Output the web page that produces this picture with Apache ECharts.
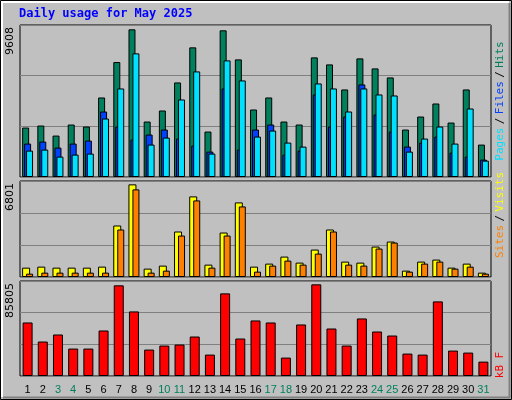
<!DOCTYPE html>
<html><head><meta charset="utf-8">
<script src="https://cdn.jsdelivr.net/npm/echarts@6/dist/echarts.min.js"></script>
<style>html,body{margin:0;padding:0;background:#C0C0C0}#c{width:512px;height:400px}</style>
</head><body><div id="c"></div>
<script>
const days = ['1','2','3','4','5','6','7','8','9','10','11','12','13','14','15','16','17','18','19','20','21','22','23','24','25','26','27','28','29','30','31'];
const weekend = ['3','4','10','11','17','18','24','25','31'];
const hits = [3217,3348,2696,3413,3283,5174,7479,9608,3609,4326,6152,8435,2957,9544,7652,4391,5174,3609,3413,7783,7326,5696,7718,7065,6478,3087,3935,4783,3543,5696,2109];
const files = [2174,2304,1913,2174,2370,4261,3283,2435,2761,3087,2500,2044,1652,5761,1783,3087,3413,1457,1717,5370,3283,3935,6022,4065,2957,1978,2239,2630,1587,1326,1130];
const pages = [1717,1783,1326,1457,1522,3804,5761,8044,2109,2565,5044,6870,1522,7587,6283,2630,3022,2239,1978,6087,5761,4261,5761,5370,5304,1652,2500,3283,2174,4457,1065];
const visits = [687,761,687,687,687,761,3781,6801,614,835,3339,5917,908,3265,5475,761,982,1498,1056,2013,3486,1129,1056,2234,2602,466,1129,1277,687,982,319];
const sites = [245,319,319,319,319,319,3486,6432,319,466,3044,5622,687,3044,5180,393,835,1203,908,1718,3339,908,835,2087,2529,393,982,1129,614,761,245];
const kbytes = [50110,32260,38840,25680,25680,42600,84880,60450,24740,28500,29440,36960,20040,77360,35080,51990,50110,17230,48230,85805,44470,28500,53870,41660,37900,20980,20040,69840,23800,21920,13470];
const title = 'Daily usage for May 2025';
const maxLabels = ['9608','6801','85805'];

const C = {hits:'#00805C',files:'#0040FF',pages:'#00E0FF',visits:'#FFFF00',sites:'#FF8000',kb:'#FF0000'};
const grids = [
  {left:20,right:21,top:25,height:152},
  {left:20,right:21,top:181,height:96},
  {left:20,right:21,top:281,height:95}
];
const maxes = [9890,7047,88940];
function xa(i){return {type:'category',gridIndex:i,data:days,
  axisLine:{show:false},axisTick:{show:false},
  axisLabel:{show:i===2,interval:0,margin:8,fontSize:11,fontFamily:'Liberation Sans',
    color:(v)=>weekend.includes(v)?'#00805C':'#000'}};}
function ya(i){return {type:'value',gridIndex:i,min:0,max:maxes[i],interval:maxes[i]/3,
  axisLabel:{show:false},axisLine:{show:false},axisTick:{show:false},
  splitLine:{lineStyle:{color:'#808080',width:1}}};}
const bs = {borderColor:'#000',borderWidth:1};
function bar(name,data,g,color,w,gap){return {type:'bar',name,data,xAxisIndex:g,yAxisIndex:g,
  barWidth:w,barGap:gap,itemStyle:Object.assign({color},bs),animation:false};}
const mono='DejaVu Sans Mono';
const chart = echarts.init(document.getElementById('c'));
chart.setOption({
  backgroundColor:'#C0C0C0',
  grid:grids.map(g=>Object.assign({show:true,backgroundColor:'#C0C0C0',borderColor:'#000',borderWidth:1},g)),
  xAxis:[xa(0),xa(1),xa(2)],
  yAxis:[ya(0),ya(1),ya(2)],
  series:[
    bar('Hits',hits,0,C.hits,7,'-72%'),
    bar('Files',files,0,C.files,7,'-72%'),
    bar('Pages',pages,0,C.pages,7,'-72%'),
    bar('Visits',visits,1,C.visits,8,'-50%'),
    bar('Sites',sites,1,C.sites,7,'-50%'),
    bar('kB F',kbytes,2,C.kb,10,'0%')
  ],
  graphic:[
    {type:'rect',shape:{x:0.5,y:0.5,width:511,height:399},style:{fill:'none',stroke:'#000',lineWidth:1},silent:true},
    {type:'polyline',shape:{points:[[2,397],[2,2],[509,2]]},style:{stroke:'#fff',lineWidth:2,fill:'none'}},
    {type:'polyline',shape:{points:[[3,397.5],[509.5,397.5],[509.5,3]]},style:{stroke:'#808080',lineWidth:2,fill:'none'}},
    {type:'text',left:19,top:8,style:{text:title,fill:'#0000FF',font:'bold 12px "'+mono+'"'}},
    {type:'text',x:10,y:27,rotation:Math.PI/2,style:{text:maxLabels[0],fill:'#000',font:'11px "DejaVu Sans"',align:'right',verticalAlign:'middle'}},
    {type:'text',x:10,y:183,rotation:Math.PI/2,style:{text:maxLabels[1],fill:'#000',font:'11px "DejaVu Sans"',align:'right',verticalAlign:'middle'}},
    {type:'text',x:10,y:283,rotation:Math.PI/2,style:{text:maxLabels[2],fill:'#000',font:'11px "DejaVu Sans"',align:'right',verticalAlign:'middle'}},
    {type:'text',x:500,y:101,rotation:Math.PI/2,style:{
      text:'{p|Pages} {s|/} {f|Files} {s|/} {h|Hits}',align:'center',verticalAlign:'middle',
      rich:{p:{fill:C.pages,font:'11px "'+mono+'"'},f:{fill:C.files,font:'11px "'+mono+'"'},h:{fill:C.hits,font:'11px "'+mono+'"'},s:{fill:'#000',font:'11px "'+mono+'"'}}}},
    {type:'text',x:500,y:215,rotation:Math.PI/2,style:{
      text:'{a|Sites} {s|/} {b|Visits}',align:'center',verticalAlign:'middle',
      rich:{a:{fill:C.sites,font:'11px "'+mono+'"'},b:{fill:C.visits,font:'11px "'+mono+'"'},s:{fill:'#000',font:'11px "'+mono+'"'}}}},
    {type:'text',x:500,y:365,rotation:Math.PI/2,style:{text:'kB F',fill:C.kb,font:'11px "'+mono+'"',align:'center',verticalAlign:'middle'}}
  ]
});
</script></body></html>
